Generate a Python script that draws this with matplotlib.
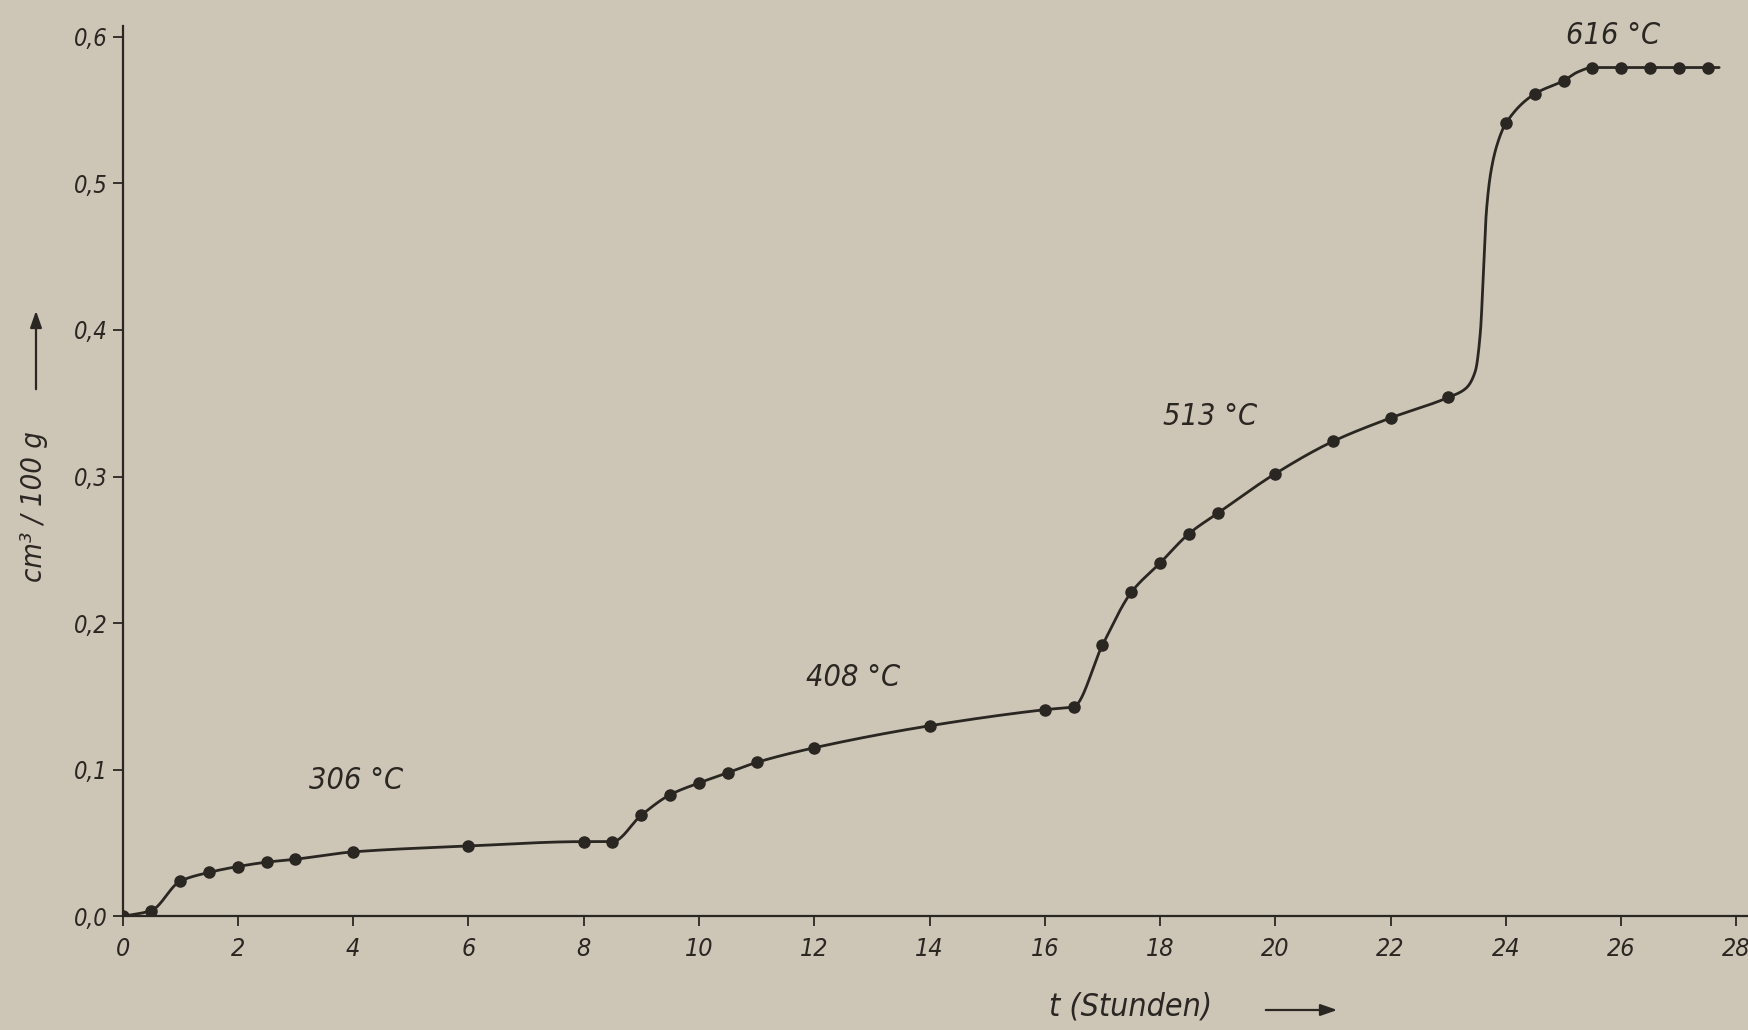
import numpy as np
import matplotlib
matplotlib.use("Agg")
import matplotlib.pyplot as plt
from matplotlib.ticker import FuncFormatter

# ---- data ----
time_h = [0, 0.5, 1, 1.5, 2, 2.5, 3, 4, 6, 8, 8.5, 9, 9.5, 10, 10.5, 11, 12, 14,
          16, 16.5, 17, 17.5, 18, 18.5, 19, 20, 21, 22, 23, 24, 24.5, 25, 25.5,
          26, 26.5, 27, 27.5]
volume = [0.000, 0.004, 0.024, 0.030, 0.034, 0.037, 0.039, 0.044, 0.048, 0.051,
          0.051, 0.069, 0.083, 0.091, 0.098, 0.105, 0.115, 0.130, 0.141, 0.143,
          0.185, 0.221, 0.241, 0.261, 0.275, 0.302, 0.324, 0.340, 0.354, 0.541,
          0.561, 0.570, 0.579, 0.579, 0.579, 0.579, 0.579]
curve_extra_t = [23.3, 23.47, 23.56, 23.61, 23.66, 23.74, 23.86, 25.25, 27.7]
curve_extra_v = [0.360, 0.372, 0.400, 0.440, 0.480, 0.508, 0.528, 0.576, 0.579]

temp_labels = ["306 °C", "408 °C", "513 °C", "616 °C"]
x_ticks = list(range(0, 29, 2))
y_ticks = [0.0, 0.1, 0.2, 0.3, 0.4, 0.5, 0.6]

# ---- styling ----
BG = "#cdc6b7"
INK = "#2a2622"
FONT = dict(family="DejaVu Sans", style="oblique", stretch="condensed")

plt.rcParams["font.family"] = ["DejaVu Sans"]


def pchip(x, y, xs):
    x = np.asarray(x, float); y = np.asarray(y, float)
    h = np.diff(x); delta = np.diff(y) / h
    n = len(x); d = np.zeros(n)
    for k in range(1, n - 1):
        if delta[k - 1] * delta[k] > 0:
            w1 = 2 * h[k] + h[k - 1]; w2 = h[k] + 2 * h[k - 1]
            d[k] = (w1 + w2) / (w1 / delta[k - 1] + w2 / delta[k])
    d[0] = delta[0]; d[-1] = delta[-1]
    idx = np.clip(np.searchsorted(x, xs) - 1, 0, n - 2)
    t = (xs - x[idx]) / h[idx]
    h00 = 2 * t**3 - 3 * t**2 + 1; h10 = t**3 - 2 * t**2 + t
    h01 = -2 * t**3 + 3 * t**2; h11 = t**3 - t**2
    return (h00 * y[idx] + h10 * h[idx] * d[idx] + h01 * y[idx + 1]
            + h11 * h[idx] * d[idx + 1])


fig = plt.figure(figsize=(17.48, 10.30), dpi=100, facecolor=BG)
ax = fig.add_axes([0.0701, 0.1103, 0.9299, 0.8640])
ax.set_facecolor(BG)

# smooth curve through measured + read-off curve points
ct = np.array(time_h + curve_extra_t, float)
cv = np.array(volume + curve_extra_v, float)
order = np.argsort(ct)
ct, cv = ct[order], cv[order]
xs = np.linspace(ct[0], ct[-1], 4000)
ax.plot(xs, pchip(ct, cv, xs), color=INK, lw=2.0, solid_capstyle="round",
        zorder=2)
ax.plot(time_h, volume, "o", color=INK, ms=8, zorder=3)

ax.set_xlim(0, 28.2)
ax.set_ylim(0, 0.607)

for s in ("top", "right"):
    ax.spines[s].set_visible(False)
for s in ("left", "bottom"):
    ax.spines[s].set_color(INK)
    ax.spines[s].set_linewidth(1.6)

ax.set_xticks(x_ticks)
ax.set_yticks(y_ticks)
ax.xaxis.set_major_formatter(FuncFormatter(lambda v, p: f"{v:.0f}"))
ax.yaxis.set_major_formatter(FuncFormatter(lambda v, p: f"{v:.1f}".replace(".", ",")))
ax.tick_params(axis="both", direction="out", length=7, width=1.3, color=INK,
               labelcolor=INK)
ax.tick_params(axis="x", pad=8)
ax.tick_params(axis="y", pad=4)
for lab in ax.get_xticklabels():
    lab.set_fontproperties(matplotlib.font_manager.FontProperties(size=18, **FONT))
for lab in ax.get_yticklabels():
    lab.set_fontproperties(matplotlib.font_manager.FontProperties(size=17, **FONT))

# temperature annotations
ann_pos = [(4.05, 0.093), (12.67, 0.163), (18.86, 0.341), (25.86, 0.601)]
for txt, (tx, ty) in zip(temp_labels, ann_pos):
    ax.text(tx, ty, txt, ha="center", va="center", fontsize=22, color=INK,
            clip_on=False, **FONT)

# axis labels with arrows
fig.text(1131 / 1748, 1 - 1007 / 1030, "t (Stunden)", ha="center",
         va="center", fontsize=23, color=INK, **FONT)
fig.patches.append(matplotlib.patches.FancyArrowPatch(
    (1263 / 1748, 1 - 1010 / 1030), (1340 / 1748, 1 - 1010 / 1030),
    transform=fig.transFigure, arrowstyle="-|>,head_length=10,head_width=3.5",
    color=INK, lw=1.6, mutation_scale=1))

fig.text(34 / 1748, 1 - 507 / 1030, "cm³ / 100 g", ha="center", va="center",
         rotation=90, fontsize=21, color=INK, **FONT)
fig.patches.append(matplotlib.patches.FancyArrowPatch(
    (36 / 1748, 1 - 392 / 1030), (36 / 1748, 1 - 308 / 1030),
    transform=fig.transFigure, arrowstyle="-|>,head_length=10,head_width=3.5",
    color=INK, lw=1.6, mutation_scale=1))

fig.savefig("out.png", dpi=100, facecolor=BG)
